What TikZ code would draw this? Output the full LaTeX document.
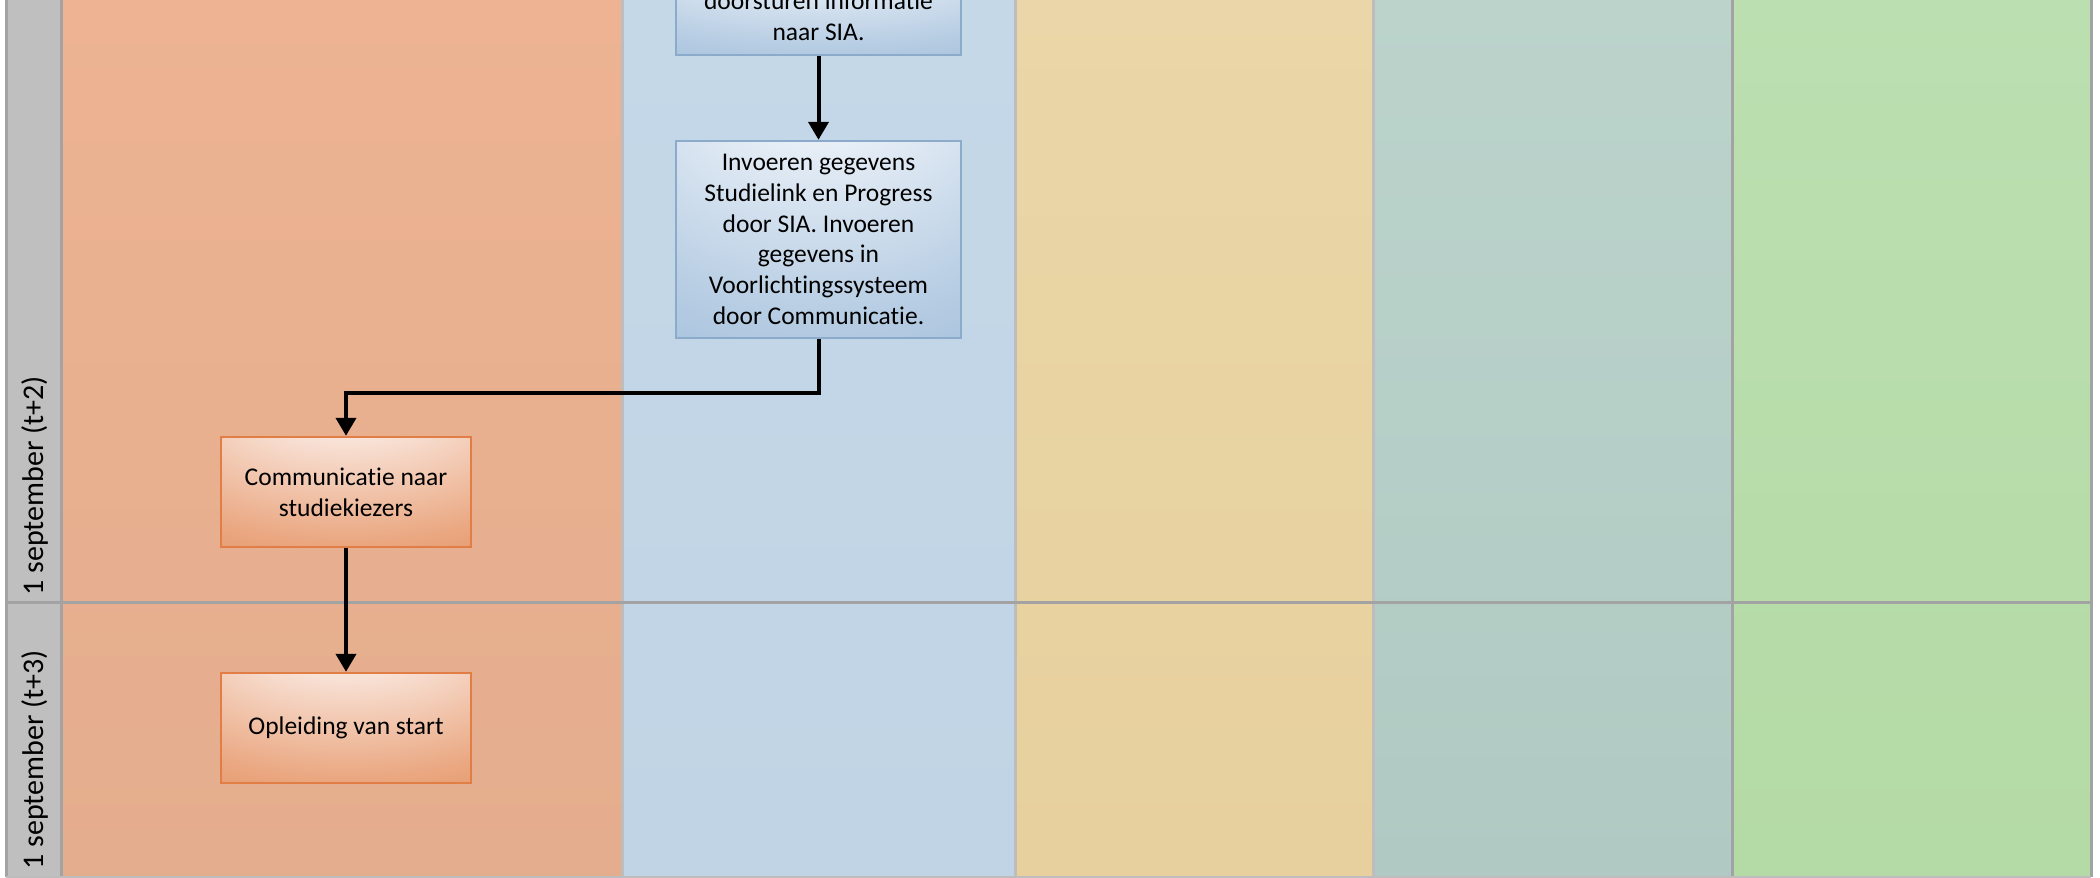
\documentclass[tikz,border=0pt]{standalone}
\usepackage{fontspec}
\setmainfont{Carlito}[Ligatures=NoCommon]
\usetikzlibrary{arrows.meta}

\definecolor{stripgray}{RGB}{191,191,191}
\definecolor{linegray}{RGB}{163,163,163}
\definecolor{sepgray}{RGB}{189,189,189}
\definecolor{colOrT}{RGB}{237,179,146}
\definecolor{colOrB}{RGB}{228,173,141}
\definecolor{colBlT}{RGB}{197,216,232}
\definecolor{colBlB}{RGB}{192,212,229}
\definecolor{colYeT}{RGB}{234,214,168}
\definecolor{colYeB}{RGB}{231,208,157}
\definecolor{colTeT}{RGB}{187,211,203}
\definecolor{colTeB}{RGB}{176,202,195}
\definecolor{colGrT}{RGB}{188,223,177}
\definecolor{colGrB}{RGB}{180,218,165}
\definecolor{bxblueL}{RGB}{242,246,251}
\definecolor{bxblueM}{RGB}{180,203,226}
\definecolor{bxblueD}{RGB}{143,177,210}
\definecolor{bxblueE}{RGB}{140,170,201}
\definecolor{bxorL}{RGB}{252,240,235}
\definecolor{bxorM}{RGB}{234,168,130}
\definecolor{bxorD}{RGB}{222,122,66}
\definecolor{bxorE}{RGB}{224,126,70}

\pgfdeclareradialshading{blueglow}{\pgfpoint{0bp}{56bp}}{%
  color(0bp)=(bxblueL); color(12bp)=(bxblueL); color(44bp)=(bxblueM); color(72bp)=(bxblueD)}
\pgfdeclareradialshading{orangeglow}{\pgfpoint{0bp}{56bp}}{%
  color(0bp)=(bxorL); color(12bp)=(bxorL); color(44bp)=(bxorM); color(72bp)=(bxorD)}

\tikzset{
  boxtext/.style={font=\fontsize{12.75pt}{15.35pt}\selectfont, align=center, inner sep=0pt, text=black},
  bluebox/.style={boxtext, rectangle, draw=bxblueE, line width=1.2pt, shade, shading=blueglow, minimum width=142.5pt},
  orangebox/.style={boxtext, rectangle, draw=bxorE, line width=1.2pt, shade, shading=orangeglow, minimum width=125pt, minimum height=55pt},
  arr/.style={draw=black, line width=2pt, -{Triangle[width=10pt,length=9pt]}},
  rowlabel/.style={font=\fontsize{15pt}{18pt}\selectfont, rotate=90, anchor=west, inner sep=0pt, text=black},
  sep/.style={draw=sepgray, line width=1.5pt},
  divider/.style={draw=linegray, line width=1.5pt}
}

\begin{document}
\begin{tikzpicture}[x=0.5pt,y=-0.5pt]
\useasboundingbox (0,0) rectangle (2100,878);
\clip (0,0) rectangle (2100,878);
\fill[white] (0,0) rectangle (2100,878);

% lanes
\shade[top color=colOrT, bottom color=colOrB] (61,-5) rectangle (622,877);
\shade[top color=colBlT, bottom color=colBlB] (622,-5) rectangle (1015,877);
\shade[top color=colYeT, bottom color=colYeB] (1015,-5) rectangle (1373.5,877);
\shade[top color=colTeT, bottom color=colTeB] (1373.5,-5) rectangle (1732,877);
\shade[top color=colGrT, bottom color=colGrB] (1732,-5) rectangle (2091,877);
\fill[stripgray] (6,-5) rectangle (61,877);

\draw[sep] (622.5,-5) -- (622.5,877);
\draw[sep] (1015,-5) -- (1015,877);
\draw[sep] (1373.5,-5) -- (1373.5,877);
\draw[divider] (1732,-5) -- (1732,877);
\draw[divider] (2091,-5) -- (2091,877);
\draw[divider] (6,-5) -- (6,877);
\draw[divider] (61,-5) -- (61,877);
\draw[divider] (6,602.5) -- (2091,602.5);
\draw[sep] (6,877) -- (2091,877);

% row labels
\node[rowlabel] (r1) at (35,596) {1 september (t+2)};
\node[rowlabel] (r2) at (35,870) {1 september (t+3)};

% boxes
\node[bluebox, minimum height=39pt] (b1) at (818.5,16) {doorsturen informatie\\naar SIA.};
\node[bluebox, minimum height=98.5pt] (b2) at (818.5,239.5) {Invoeren gegevens\\Studielink en Progress\\door SIA. Invoeren\\gegevens in\\Voorlichtingssysteem\\door Communicatie.};
\node[orangebox] (b3) at (346,492) {Communicatie naar\\studiekiezers};
\node[orangebox] (b4) at (346,728) {Opleiding van start};

% connectors
\draw[arr] (b1.south) -- (b2.north);
\draw[arr] (b2.south) -- ++(0,54) -| (b3.north);
\draw[arr] (b3.south) -- (b4.north);
\end{tikzpicture}
\end{document}
